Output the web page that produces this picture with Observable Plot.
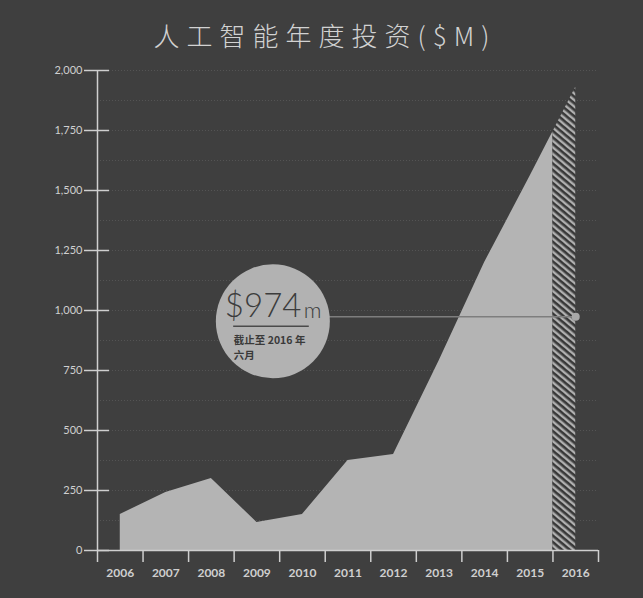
<!DOCTYPE html>
<html>
<head>
<meta charset="utf-8">
<script src="https://cdn.jsdelivr.net/npm/d3@7"></script>
<script src="https://cdn.jsdelivr.net/npm/@observablehq/plot@0.6"></script>
<style>
  html, body { margin: 0; padding: 0; background: #3f3f3f; }
  #wrap { width: 643px; height: 598px; background: #3f3f3f; overflow: hidden; }
  #title {
    height: 36px; padding-top: 21px; line-height: 28px;
    text-align: center; color: #d2d2d2;
    font-family: "Noto Sans CJK SC", sans-serif; font-weight: 300;
    font-size: 26px; letter-spacing: 7px; padding-left: 7px;
  }
</style>
</head>
<body>
<div id="wrap">
  <div id="title">人工智能年度投资($M)</div>
  <div id="chart"></div>
</div>
<script>
// ---- data ----
const years = [2006, 2007, 2008, 2009, 2010, 2011, 2012, 2013, 2014, 2015, 2016];
const investment = [150, 242, 300, 117, 150, 375, 400, 790, 1200, 1560, 1930];
const yTicks = [0, 250, 500, 750, 1000, 1250, 1500, 1750, 2000];
const gridValues = [125, 250, 375, 500, 625, 750, 875, 1000, 1125, 1250, 1375, 1500, 1625, 1750, 1875, 2000];
const bandEdges = [2005.5, 2006.5, 2007.5, 2008.5, 2009.5, 2010.5, 2011.5, 2012.5, 2013.5, 2014.5, 2015.5, 2016.5];
const highlightValue = 974;
const highlightBig = "$974";
const highlightUnit = "m";
const highlightNote = "截止至 2016 年\n六月";
// annotation placement (data units)
const circleX = 2009.35, circleY = 955;
const underlineX1 = 2008.49, underlineX2 = 2010.15;

// ---- derived tables ----
const rows = years.map((y, i) => ({year: y, value: investment[i]}));
const last = rows[rows.length - 1], prev = rows[rows.length - 2];
const edge = {year: (prev.year + last.year) / 2, value: (prev.value + last.value) / 2};
const solid = rows.slice(0, -1).concat([edge]);
const hatched = [edge, last];

const chart = Plot.plot({
  width: 643, height: 538,
  marginLeft: 97, marginRight: 45, marginTop: 13, marginBottom: 45,
  x: {domain: [2005.5, 2016.5], label: null},
  y: {domain: [0, 2000], label: null},
  style: {background: "transparent", color: "#cfcfcf", fontFamily: "Lato, sans-serif"},
  marks: [
    Plot.ruleY(gridValues, {stroke: "#a0a0a0", strokeOpacity: 0.22, strokeDasharray: "1,2"}),
    Plot.areaY(solid, {x: "year", y: "value", fill: "#b4b4b4"}),
    Plot.areaY(hatched, {x: "year", y: "value", fill: "url(#hatch)"}),
    Plot.ruleY([highlightValue], {x1: circleX, x2: last.year, stroke: "#7e7e7e", strokeWidth: 1.5}),
    Plot.dot([{x: circleX, y: circleY}], {x: "x", y: "y", r: 57, fill: "#b2b2b2", stroke: "none"}),
    Plot.ruleY([{y: circleY}], {y: "y", x1: underlineX1, x2: underlineX2, dy: 5, stroke: "#4a4a4a", strokeWidth: 1.5}),
    Plot.text([highlightBig], {x: circleX, y: circleY, text: d => d, dx: -48, dy: -15, textAnchor: "start", lineAnchor: "middle", fontSize: 33, fontWeight: 300, fill: "#3c3c3c"}),
    Plot.text([highlightUnit], {x: circleX, y: circleY, text: d => d, dx: 31, dy: -10, textAnchor: "start", lineAnchor: "middle", fontSize: 22, fontWeight: 300, fill: "#3c3c3c"}),
    Plot.text([highlightNote], {x: circleX, y: circleY, text: d => d, dx: -39, dy: 13, textAnchor: "start", lineAnchor: "top", fontSize: 10.5, fontWeight: 600, lineHeight: 1.35, fill: "#3a3a3a", fontFamily: "'Noto Sans CJK SC', sans-serif"}),
    Plot.dot([{x: last.year, y: highlightValue}], {x: "x", y: "y", r: 4, fill: "#a8a8a8", stroke: "none"}),
    Plot.ruleX([2005.5], {stroke: "#cfcfcf", strokeWidth: 1.5}),
    Plot.ruleY([0], {stroke: "#cfcfcf", strokeWidth: 1.5}),
    Plot.axisY(yTicks, {tickSize: 25, dx: 12, tickFormat: () => "", label: null, strokeWidth: 1.5}),
    Plot.axisY(yTicks, {tickSize: 0, tickPadding: 15, tickFormat: d3.format(","), label: null, fontSize: 11}),
    Plot.axisX(bandEdges, {tickSize: 12, tickFormat: () => "", label: null, strokeWidth: 1.5}),
    Plot.axisX(years, {tickSize: 0, tickPadding: 18, tickFormat: d => String(d), label: null, fontSize: 12, fontWeight: 700})
  ]
});

const ns = "http://www.w3.org/2000/svg";
const defs = document.createElementNS(ns, "defs");
defs.innerHTML = '<pattern id="hatch" patternUnits="userSpaceOnUse" width="5" height="5" patternTransform="rotate(40)">' +
  '<rect width="5" height="5" fill="#b0b0b0"></rect><rect width="5" height="2.6" fill="#383838"></rect></pattern>';
chart.insertBefore(defs, chart.firstChild);
document.getElementById("chart").appendChild(chart);
</script>
</body>
</html>
